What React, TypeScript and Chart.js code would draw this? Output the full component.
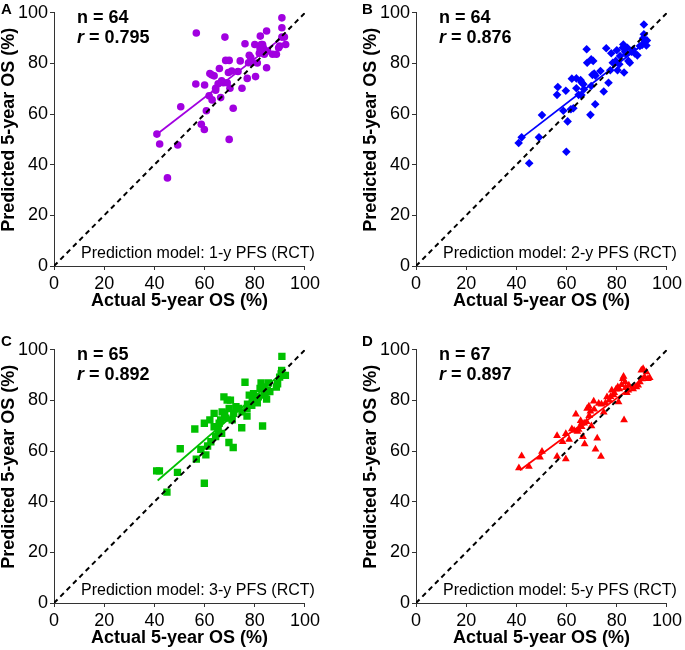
import React, { useEffect, useRef } from "react";
import { Chart, registerables } from "chart.js";
Chart.register(...registerables);

// ---------- Data ----------
const actualA = [41.0, 42.1, 45.2, 49.3, 50.5, 56.7, 56.5, 58.7, 59.9, 60.0, 60.7, 61.8, 63.0, 62.1, 63.8, 64.4, 65.4, 65.9, 66.4, 66.8, 67.5, 68.1, 68.4, 69.8, 69.5, 69.8, 70.1, 70.8, 71.4, 73.3, 74.2, 74.9, 76.1, 77.0, 77.8, 77.5, 78.8, 80.3, 80.0, 81.0, 82.2, 82.6, 82.9, 83.4, 83.8, 84.7, 84.7, 85.1, 87.1, 88.6, 90.8, 90.8, 90.8, 91.8, 92.3, 89.9, 82.1, 83.1, 89.5, 78.4, 69.0, 64.4, 62.8, 81.8];
const predA = [52.1, 48.2, 34.8, 47.8, 62.9, 92.0, 71.9, 56.0, 53.9, 71.5, 61.3, 67.2, 65.6, 76.0, 75.1, 69.4, 72.0, 78.0, 66.5, 73.1, 72.4, 90.4, 81.2, 81.2, 76.4, 50.0, 70.2, 77.0, 62.3, 76.8, 81.0, 70.2, 87.8, 74.1, 83.2, 80.3, 80.3, 74.8, 87.5, 80.2, 90.8, 87.5, 84.5, 86.2, 83.6, 92.8, 78.3, 84.9, 83.6, 83.6, 98.0, 94.1, 90.4, 90.4, 87.5, 86.9, 85.8, 87.5, 86.2, 82.3, 72.4, 70.2, 75.5, 84.0];

const actualB = [40.9, 42.1, 45.1, 49.0, 50.2, 56.2, 56.5, 58.7, 59.7, 59.9, 60.4, 61.7, 62.7, 62.1, 63.9, 63.9, 64.8, 65.6, 65.9, 66.7, 66.9, 68.0, 68.2, 69.5, 69.8, 69.8, 70.6, 70.3, 71.0, 71.4, 73.5, 74.8, 75.8, 76.7, 77.4, 77.8, 78.4, 79.6, 80.0, 80.3, 81.0, 82.4, 82.6, 82.9, 83.3, 84.2, 84.6, 85.2, 85.9, 87.2, 88.2, 89.2, 90.1, 90.5, 90.8, 90.8, 91.2, 91.8, 92.0, 83.7, 81.3, 66.0, 71.5, 86.5];
const predB = [48.6, 50.8, 40.6, 50.8, 59.6, 67.6, 70.7, 61.3, 69.2, 45.1, 57.1, 61.9, 62.3, 74.0, 74.1, 70.2, 67.6, 73.4, 67.5, 71.8, 69.8, 85.6, 80.3, 59.7, 71.1, 81.6, 81.0, 75.5, 76.0, 63.9, 77.0, 68.9, 86.0, 72.4, 77.3, 84.0, 80.3, 81.0, 85.2, 77.3, 79.7, 86.2, 87.5, 76.4, 84.6, 86.2, 81.0, 80.3, 84.6, 83.9, 83.2, 86.9, 87.3, 89.9, 95.4, 91.5, 88.8, 87.1, 89.1, 83.6, 82.9, 72.5, 75.2, 85.5];

const actualC = [40.9, 42.0, 45.0, 49.2, 50.3, 56.1, 56.7, 58.5, 59.9, 59.9, 60.5, 61.2, 62.1, 62.5, 63.8, 63.8, 64.4, 65.4, 66.4, 66.8, 67.7, 68.0, 69.0, 69.7, 69.8, 70.3, 71.0, 71.4, 71.6, 73.6, 74.8, 74.9, 76.1, 76.9, 77.1, 77.8, 78.8, 79.5, 80.5, 81.0, 82.1, 82.5, 83.1, 83.4, 84.1, 84.7, 85.0, 85.4, 88.6, 89.1, 89.9, 90.7, 90.8, 91.2, 92.2, 90.5, 81.4, 76.9, 65.8, 67.0, 72.5, 79.0, 83.8, 86.0, 68.5];
const predC = [52.2, 52.2, 43.8, 51.6, 60.9, 68.7, 56.8, 60.7, 71.0, 47.3, 58.5, 62.0, 72.3, 63.7, 74.9, 69.6, 65.7, 68.3, 72.3, 67.0, 81.4, 74.9, 80.1, 63.4, 76.8, 80.1, 72.3, 61.4, 74.9, 76.8, 69.2, 75.5, 87.2, 73.8, 78.5, 82.1, 78.1, 82.7, 80.1, 79.1, 84.7, 86.9, 69.9, 85.3, 82.1, 80.5, 84.0, 86.9, 85.3, 86.6, 89.2, 91.9, 97.4, 89.9, 89.9, 90.5, 81.4, 76.8, 71.0, 75.5, 77.5, 80.5, 83.0, 83.5, 73.0];

const actualD = [41.0, 42.1, 45.0, 49.4, 50.2, 56.2, 56.2, 58.4, 59.7, 59.7, 61.0, 62.1, 63.0, 63.7, 64.3, 65.6, 65.9, 66.5, 67.2, 68.0, 68.2, 68.9, 69.5, 69.9, 70.8, 71.5, 72.2, 72.8, 73.7, 73.9, 74.8, 76.1, 77.0, 78.0, 78.7, 79.7, 80.4, 80.7, 81.9, 82.4, 82.7, 82.9, 83.3, 84.0, 84.6, 84.8, 87.8, 88.5, 89.2, 89.8, 90.5, 91.1, 91.8, 92.4, 93.1, 66.0, 64.8, 67.0, 69.0, 71.0, 75.5, 77.5, 79.0, 81.0, 83.5, 86.5, 90.0];
const predD = [53.3, 58.1, 53.9, 57.6, 59.8, 57.9, 66.1, 63.7, 56.9, 66.8, 64.6, 68.7, 68.1, 74.5, 67.7, 72.0, 70.9, 65.7, 62.8, 71.6, 76.8, 77.7, 75.7, 69.9, 79.7, 60.7, 65.1, 78.8, 57.9, 78.5, 75.3, 81.4, 80.1, 84.0, 82.1, 84.4, 85.3, 79.4, 86.2, 88.6, 89.5, 72.3, 87.3, 83.0, 84.0, 86.0, 85.3, 86.0, 87.3, 91.9, 92.5, 89.3, 91.2, 88.6, 89.0, 69.6, 68.5, 71.0, 74.0, 76.5, 79.0, 81.5, 83.0, 84.5, 85.0, 84.5, 88.5];

// regression line endpoints
const fitAx = [41, 90];
const fitAy = [52, 89.5];
const fitBx = [42, 91];
const fitBy = [50.5, 88];
const fitCx = [41.3, 91];
const fitCy = [48.4, 91];
const fitDx = [41.4, 91];
const fitDy = [52.4, 89];

const identityX = [0, 100];
const identityY = [0, 100];

const tickValues = [0, 20, 40, 60, 80, 100];

const FONT = 'Arial, "Liberation Sans", Helvetica, sans-serif';

type PanelProps = {
  xs: number[];
  ys: number[];
  fx: number[];
  fy: number[];
  color: string;
  shape: string;
  radius: number;
  n: string;
  r: string;
  model: string;
  left: number;
  top: number;
};

const W = 323;
const H = 312;

function Panel(p: PanelProps) {
  const ref = useRef<HTMLCanvasElement | null>(null);
  useEffect(() => {
    if (!ref.current) return;
    const pts = p.xs.map((x, i) => ({ x, y: p.ys[i] }));
    const fit = p.fx.map((x, i) => ({ x, y: p.fy[i] }));
    const diag = identityX.map((x, i) => ({ x, y: identityY[i] }));
    const textPlugin = {
      id: "panelText",
      afterDraw(chart: any) {
        const { ctx, chartArea } = chart;
        ctx.save();
        ctx.fillStyle = "#000";
        ctx.textBaseline = "alphabetic";
        ctx.textAlign = "left";
        const tx = chartArea.left + 23;
        ctx.font = `bold 18px ${FONT}`;
        ctx.fillText(`n = ${p.n}`, tx, chartArea.top + 10);
        ctx.font = `italic bold 18px ${FONT}`;
        ctx.fillText("r", tx, chartArea.top + 30.5);
        const w = ctx.measureText("r").width;
        ctx.font = `bold 18px ${FONT}`;
        ctx.fillText(` = ${p.r}`, tx + w, chartArea.top + 30.5);
        ctx.font = `16px ${FONT}`;
        ctx.fillText(p.model, chartArea.left + 27, chartArea.bottom - 8.5);
        // y-axis title
        ctx.translate(9, chartArea.top + 117);
        ctx.rotate(-Math.PI / 2);
        ctx.textAlign = "center";
        ctx.textBaseline = "middle";
        ctx.font = `bold 18px ${FONT}`;
        ctx.fillText("Predicted 5-year OS (%)", 0, 0);
        ctx.restore();
      },
    };
    const axisCommon = {
      type: "linear" as const,
      min: 0,
      max: 100,
      afterBuildTicks: (scale: any) => {
        scale.ticks = tickValues.map((v) => ({ value: v }));
      },
      grid: {
        drawOnChartArea: false,
        drawTicks: true,
        tickLength: 4,
        color: "#333",
        lineWidth: 1,
      },
      border: { display: true, color: "#333", width: 1 },
      ticks: {
        color: "#000",
        font: { family: FONT, size: 18 },
        padding: 2,
      },
    };
    const chart = new Chart(ref.current, {
      type: "scatter",
      data: {
        datasets: [
          {
            data: diag,
            showLine: true,
            borderColor: "#000",
            borderWidth: 2,
            borderDash: [5, 4],
            pointRadius: 0,
          },
          {
            data: fit,
            showLine: true,
            borderColor: p.color,
            borderWidth: 1.8,
            pointRadius: 0,
          },
          {
            data: pts,
            showLine: false,
            backgroundColor: p.color,
            borderWidth: 0,
            pointStyle: p.shape as any,
            pointRadius: p.radius,
          },
        ],
      },
      options: {
        responsive: false,
        animation: false,
        devicePixelRatio: 1,
        layout: { padding: { left: 0, top: 12, right: 14, bottom: 0 } },
        plugins: {
          legend: { display: false },
          tooltip: { enabled: false },
        },
        scales: {
          x: {
            ...axisCommon,
            position: "bottom",
            afterFit: (scale: any) => {
              scale.height = 46;
            },
            ticks: { ...axisCommon.ticks, padding: 3 },
            title: {
              display: true,
              text: "Actual 5-year OS (%)",
              color: "#000",
              font: { family: FONT, size: 18, weight: "bold" },
              padding: { top: 0, bottom: 0 },
            },
          },
          y: {
            ...axisCommon,
            position: "left",
            afterFit: (scale: any) => {
              scale.width = 54;
            },
            title: { display: false },
          },
        },
      } as any,
      plugins: [textPlugin],
    });
    return () => chart.destroy();
  }, []);
  return (
    <canvas
      ref={ref}
      width={W}
      height={H}
      style={{ position: "absolute", left: p.left, top: p.top, width: W, height: H }}
    />
  );
}

const letterStyle = (left: number, top: number): React.CSSProperties => ({
  position: "absolute",
  left,
  top,
  fontFamily: FONT,
  fontWeight: "bold",
  fontSize: 15,
  lineHeight: "15px",
  color: "#000",
});

export default function App() {
  return (
    <div
      style={{
        position: "absolute",
        left: 0,
        top: 0,
        width: 685,
        height: 650,
        overflow: "hidden",
        background: "#fff",
      }}
    >
      <Panel xs={actualA} ys={predA} fx={fitAx} fy={fitAy} color="#A100E0" shape="circle" radius={3.8} n="64" r="0.795" model="Prediction model: 1-y PFS (RCT)" left={0} top={0} />
      <Panel xs={actualB} ys={predB} fx={fitBx} fy={fitBy} color="#0000FF" shape="rectRot" radius={4.3} n="64" r="0.876" model="Prediction model: 2-y PFS (RCT)" left={362} top={0} />
      <Panel xs={actualC} ys={predC} fx={fitCx} fy={fitCy} color="#00C000" shape="rect" radius={5.2} n="65" r="0.892" model="Prediction model: 3-y PFS (RCT)" left={0} top={337} />
      <Panel xs={actualD} ys={predD} fx={fitDx} fy={fitDy} color="#FF0000" shape="triangle" radius={4.5} n="67" r="0.897" model="Prediction model: 5-y PFS (RCT)" left={362} top={337} />
      <div style={letterStyle(1, 1)}>A</div>
      <div style={letterStyle(362, 1)}>B</div>
      <div style={letterStyle(1, 333)}>C</div>
      <div style={letterStyle(362, 333)}>D</div>
    </div>
  );
}
